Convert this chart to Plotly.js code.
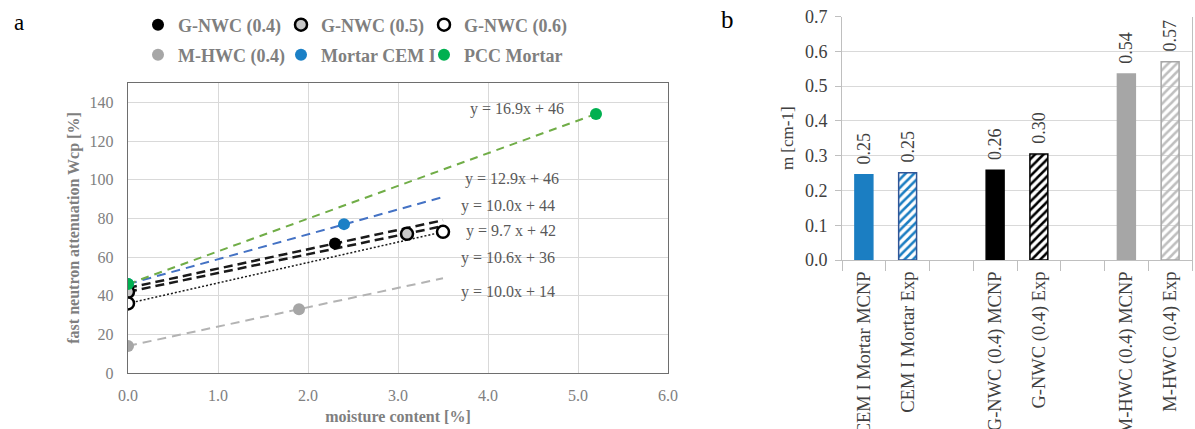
<!DOCTYPE html>
<html>
<head>
<meta charset="utf-8">
<script src="https://cdn.plot.ly/plotly-3.0.1.min.js"></script>
<style>html,body{margin:0;padding:0;background:#fff;}#chart{width:1195px;height:429px;}</style>
</head>
<body>
<div id="chart"></div>
<script>
// ---------- Panel a: measured points ----------
const seriesNames = ["M-HWC (0.4)", "G-NWC (0.4)", "Mortar CEM I", "G-NWC (0.5)", "PCC Mortar", "G-NWC (0.6)"];
const moistureMHWC = [0, 1.9];   const attenMHWC = [14, 33];
const moistureG04  = [0, 2.3];   const attenG04  = [44, 67];
const moistureCEM  = [0, 2.4];   const attenCEM  = [46, 77];
const moistureG05  = [0, 3.1];   const attenG05  = [42, 72];
const moisturePCC  = [0, 5.2];   const attenPCC  = [46, 134];
const moistureG06  = [0, 3.5];   const attenG06  = [36, 73];

// trend line end points
const trendXMHWC = [0, 3.5]; const trendYMHWC = [14, 49];
const trendXG04  = [0, 3.5]; const trendYG04  = [44, 79];
const trendXCEM  = [0, 3.5]; const trendYCEM  = [46, 91];
const trendXG05  = [0, 3.5]; const trendYG05  = [42, 76];
const trendXPCC  = [0, 5.2]; const trendYPCC  = [46, 134];
const trendXG06  = [0, 3.5]; const trendYG06  = [36, 73];

const equations = ["y = 16.9x + 46", "y = 12.9x + 46", "y = 10.0x + 44", "y = 9.7 x + 42", "y = 10.6x + 36", "y = 10.0x + 14"];

// ---------- Panel b: bars ----------
const barCategories = ["CEM I Mortar MCNP", "CEM I Mortar Exp", " ", "G-NWC (0.4) MCNP", "G-NWC (0.4) Exp", "  ", "M-HWC (0.4) MCNP", "M-HWC (0.4) Exp"];
const barValues = [0.245, 0.251, null, 0.258, 0.305, null, 0.535, 0.570];
const barLabels = ["0.25", "0.25", "", "0.26", "0.30", "", "0.54", "0.57"];

const SERIF = '"Liberation Serif", "Times New Roman", serif';
const GRAY = '#7f7f7f';

function trend(x, y, color, dash, width) {
  return {x: x, y: y, xaxis: 'x', yaxis: 'y', mode: 'lines', showlegend: false, hoverinfo: 'skip',
          line: {color: color, dash: dash, width: width}};
}
function pts(x, y, name, fill, lineColor, lineW, legend) {
  return {x: x, y: y, xaxis: 'x', yaxis: 'y', mode: 'markers', name: name, legend: legend,
          marker: {size: 12, color: fill, line: {color: lineColor, width: lineW}}};
}

const traces = [
  trend(trendXMHWC, trendYMHWC, '#b3b3b3', '9px,6px', 2),
  trend(trendXG04,  trendYG04,  '#1a1a1a', '9px,5px', 2.5),
  trend(trendXCEM,  trendYCEM,  '#4472C4', '9px,6px', 2),
  trend(trendXG05,  trendYG05,  '#1a1a1a', '9px,5px', 2.5),
  trend(trendXPCC,  trendYPCC,  '#70AD47', '8px,6px', 2),
  trend(trendXG06,  trendYG06,  '#1a1a1a', '2px,2px', 1.5),
  pts(moistureMHWC, attenMHWC, seriesNames[0], '#a6a6a6', '#a6a6a6', 0, 'legend2'),
  pts(moistureG04,  attenG04,  seriesNames[1], '#000000', '#000000', 0, 'legend'),
  pts(moistureCEM,  attenCEM,  seriesNames[2], '#1B80C6', '#1B80C6', 0, 'legend2'),
  pts(moistureG05,  attenG05,  seriesNames[3], '#c8c8c8', '#000000', 2.5, 'legend'),
  pts(moisturePCC,  attenPCC,  seriesNames[4], '#00B050', '#00B050', 0, 'legend2'),
  pts(moistureG06,  attenG06,  seriesNames[5], '#ffffff', '#000000', 2.5, 'legend'),
  {
    type: 'bar', x: barCategories, y: barValues, xaxis: 'x2', yaxis: 'y2', showlegend: false,
    width: 0.41,
    text: barLabels, texttemplate: '\u2009\u2009%{text}', textposition: 'outside', textangle: -90,
    cliponaxis: false, constraintext: 'none',
    textfont: {family: SERIF, size: 18, color: '#404040'},
    marker: {
      color: ['#1B7EC2', '#1B7EC2', '#fff', '#000000', '#000000', '#fff', '#A6A6A6', '#BFBFBF'],
      line: {color: ['#1B7EC2', '#2F5597', '#fff', '#000000', '#000000', '#fff', '#A6A6A6', '#A6A6A6'], width: 1.5},
      pattern: {shape: ['', '/', '', '', '/', '', '', '/'], fillmode: 'replace', bgcolor: '#ffffff', size: 6, solidity: 0.42}
    },
    hoverinfo: 'x+y'
  }
];

const eqX = [4.32, 4.27, 4.22, 4.26, 4.22, 4.22];
const eqY = [136.6, 100.5, 86.5, 73.6, 59.6, 42.0];
const annotations = equations.map((t, i) => ({
  text: t, x: eqX[i], y: eqY[i], xref: 'x', yref: 'y', showarrow: false,
  xanchor: 'center', yanchor: 'middle', font: {family: SERIF, size: 16, color: '#595959'}
}));
annotations.push({text: 'a', x: 19/1195, y: 1 - 22/429, xref: 'paper', yref: 'paper', showarrow: false,
  xanchor: 'center', yanchor: 'middle', font: {family: SERIF, size: 23, color: '#000'}});
annotations.push({text: 'b', x: 727/1195, y: 1 - 20/429, xref: 'paper', yref: 'paper', showarrow: false,
  xanchor: 'center', yanchor: 'middle', font: {family: SERIF, size: 25, color: '#000'}});

const legendFont = {family: SERIF, size: 18, color: GRAY, weight: 'bold'};

const layout = {
  width: 1195, height: 429,
  margin: {l: 0, r: 0, t: 0, b: 0},
  paper_bgcolor: '#fff', plot_bgcolor: '#fff',
  font: {family: SERIF},
  xaxis: {
    domain: [128/1195, 668/1195], anchor: 'y', range: [0, 6], dtick: 1, tick0: 0, tickformat: '.1f',
    showgrid: true, gridcolor: '#d9d9d9', zeroline: false,
    showline: true, mirror: true, linecolor: '#6e6e6e', linewidth: 1.2,
    ticks: '', ticklabelstandoff: 8,
    tickfont: {family: SERIF, size: 16, color: '#808080'},
    title: {text: 'moisture content [%]', standoff: 7, font: {family: SERIF, size: 16, color: GRAY, weight: 'bold'}}
  },
  yaxis: {
    domain: [56/429, 346/429], anchor: 'x', range: [0, 150], dtick: 20, tick0: 0,
    showgrid: true, gridcolor: '#d9d9d9', zeroline: false,
    showline: true, mirror: true, linecolor: '#6e6e6e', linewidth: 1.2,
    ticks: '', ticklabelstandoff: 10,
    tickfont: {family: SERIF, size: 16, color: '#808080'},
    title: {text: 'fast neutron attenuation Wcp [%]', standoff: 6, font: {family: SERIF, size: 16, color: GRAY, weight: 'bold'}}
  },
  xaxis2: {
    domain: [842/1195, 1192/1195], anchor: 'y2', type: 'category', categoryorder: 'array', categoryarray: barCategories,
    range: [-0.5, 7.5], tickson: 'boundaries', ticks: 'outside', ticklen: 10, tickcolor: '#bfbfbf',
    showline: true, linecolor: '#bfbfbf', mirror: false, showgrid: false, zeroline: false,
    tickangle: -90, automargin: false, ticklabelstandoff: 3,
    tickfont: {family: SERIF, size: 18.5, color: '#404040'}
  },
  yaxis2: {
    domain: [169/429, 412.5/429], anchor: 'x2', range: [0, 0.7], dtick: 0.1, tick0: 0, tickformat: '.1f',
    showgrid: true, gridcolor: '#d9d9d9', zeroline: false,
    showline: true, mirror: true, linecolor: '#bfbfbf',
    ticks: 'outside', ticklen: 6, tickcolor: '#bfbfbf', ticklabelstandoff: 4,
    tickfont: {family: SERIF, size: 18, color: '#404040'},
    title: {text: 'm [cm-1]', standoff: 6, font: {family: SERIF, size: 17, color: '#404040'}}
  },
  legend: {
    orientation: 'h', x: 138/1195, y: 1 - 25/429, xanchor: 'left', yanchor: 'middle',
    itemwidth: 30, entrywidth: 98, entrywidthmode: 'pixels', bgcolor: 'rgba(0,0,0,0)', borderwidth: 0,
    font: legendFont, traceorder: 'normal', itemclick: false, itemdoubleclick: false
  },
  legend2: {
    orientation: 'h', x: 138/1195, y: 1 - 55/429, xanchor: 'left', yanchor: 'middle',
    itemwidth: 30, entrywidth: 98, entrywidthmode: 'pixels', bgcolor: 'rgba(0,0,0,0)', borderwidth: 0,
    font: legendFont, traceorder: 'normal', itemclick: false, itemdoubleclick: false
  },
  annotations: annotations,
  showlegend: true,
  bargap: 0.59
};

Plotly.newPlot('chart', traces, layout, {displayModeBar: false, staticPlot: true});
</script>
</body>
</html>
